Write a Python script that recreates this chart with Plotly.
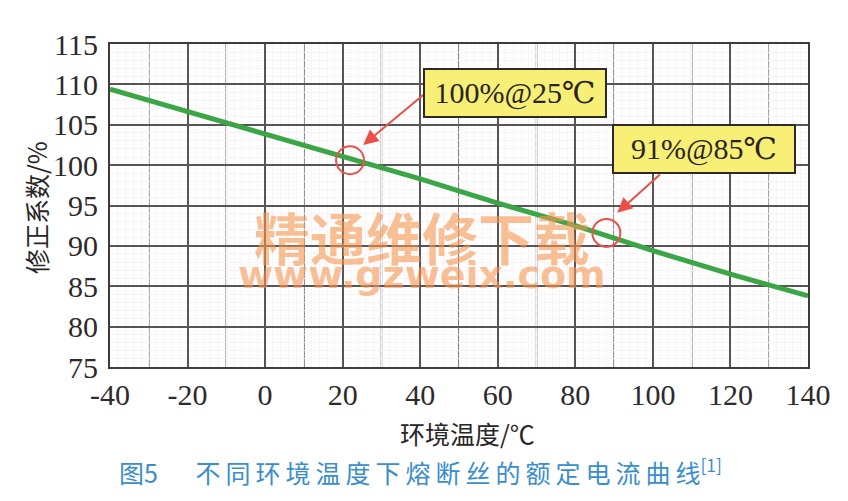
import plotly.graph_objects as go

temps = [-40, -20, 0, 20, 40, 60, 80, 100, 120, 140]
factor = [109.4, 106.6, 103.9, 101.1, 98.3, 95.3, 92.5, 89.4, 86.5, 83.8]
x_ticks = [-40, -20, 0, 20, 40, 60, 80, 100, 120, 140]
y_ticks = [75, 80, 85, 90, 95, 100, 105, 110, 115]
label1 = "100%@25℃"
label2 = "91%@85℃"
x_title = "环境温度/℃"
y_title = "修正系数/%"
caption_head = "图5"
caption_body = "不同环境温度下熔断丝的额定电流曲线"
caption_ref = "[1]"
watermark1 = "精通维修下载"
watermark2 = "www.gzweix.com"

serif = "Liberation Serif, DejaVu Serif, serif"
cjk = "Noto Sans CJK SC"

# figure is drawn at an offset of 8px (page body margin)
L, R, T, B = 110, 808, 44, 367


def px(x):
    return (x - L) / (R - L)


def py(y):
    return (B - y) / (B - T)


fig = go.Figure()
fig.add_trace(go.Scatter(x=temps, y=factor, mode="lines",
                         line=dict(color="#3aa646", width=5), hoverinfo="skip"))

grid = "#5a5456"
fig.update_xaxes(range=[-40, 140], tickvals=x_ticks, ticktext=[str(v) for v in x_ticks],
                 showgrid=True, gridcolor=grid, gridwidth=1.5,
                 showline=True, linecolor="#403a3c", linewidth=2, mirror=True,
                 zeroline=False, ticks="", ticklabelstandoff=0,
                 tickfont=dict(family=serif, size=30, color="#2e2a2b"),
                 minor=dict(dtick=2, tick0=0, showgrid=True, gridcolor="#f9f3f6", gridwidth=1))
fig.update_yaxes(range=[75, 115], tickvals=y_ticks, showgrid=True, gridcolor=grid,
                 gridwidth=1.5, showline=True, linecolor="#403a3c", linewidth=2,
                 mirror=True, zeroline=False, ticks="", ticklabelstandoff=4,
                 tickfont=dict(family=serif, size=30, color="#2e2a2b"),
                 minor=dict(dtick=1, showgrid=True, gridcolor="#f9f3f6", gridwidth=1))

# extra vertical grid lines at every 10 degrees
for v in range(-30, 140, 20):
    fig.add_shape(type="line", x0=v, x1=v, y0=75, y1=115, xref="x", yref="y",
                  line=dict(color=grid, width=1.5), layer="below")

# watermark
fig.add_annotation(x=40.5, y=91.3, xref="x", yref="y", text="<b>" + watermark1 + "</b>",
                   showarrow=False, xanchor="center", yanchor="middle",
                   font=dict(family=cjk, size=56, color="rgba(245,150,80,0.6)"))
fig.add_annotation(x=40.5, y=86.4, xref="x", yref="y", text="<b>" + watermark2 + "</b>",
                   showarrow=False, xanchor="center", yanchor="middle",
                   font=dict(family="DejaVu Sans, sans-serif", size=38,
                             color="rgba(245,150,80,0.6)"))

# red circles
for cx, cy in [(21.9, 100.6), (88.0, 91.6)]:
    rx, ry = 3.6, 1.73
    fig.add_shape(type="circle", x0=cx - rx, x1=cx + rx, y0=cy - ry, y1=cy + ry,
                  line=dict(color="#e8524a", width=2))

# arrows
for (tx, ty, hx, hy) in [(41.3, 108.9, 25.3, 102.5), (102.2, 99.0, 90.8, 94.1)]:
    fig.add_annotation(x=hx, y=hy, ax=tx, ay=ty, axref="x", ayref="y", text="",
                       showarrow=True, arrowhead=2, arrowsize=1.5, arrowwidth=2,
                       arrowcolor="#ea4f48")

# label boxes
for (bx, by, txt, w) in [(64.4, 108.9, label1, 172), (113.2, 102.0, label2, 172)]:
    fig.add_annotation(x=bx, y=by, text=txt, showarrow=False,
                       xanchor="center", yanchor="middle",
                       font=dict(family=serif, size=30, color="#2a2424"),
                       bgcolor="#f7ef76", bordercolor="#2e2a2a", borderwidth=2,
                       borderpad=4, width=w, height=38)

# titles
fig.add_annotation(x=px(36), y=py(208), xref="paper", yref="paper", text=y_title,
                   showarrow=False, textangle=-90, xanchor="center", yanchor="middle",
                   font=dict(family=cjk, size=25, color="#2a2526"))
fig.add_annotation(x=px(467), y=py(433), xref="paper", yref="paper", text=x_title,
                   showarrow=False, xanchor="center", yanchor="middle",
                   font=dict(family=cjk, size=25, color="#2a2526"))

thin = "\u2009"
caption = (caption_head + "\u2003\u2002" + thin.join(caption_body)
           + "<sup>" + caption_ref + "</sup>")
fig.add_annotation(x=px(117), y=py(471), xref="paper", yref="paper", text=caption,
                   showarrow=False, xanchor="left", yanchor="middle",
                   font=dict(family=cjk, size=25, color="#3a8ecb"))

fig.update_layout(width=840, height=493, showlegend=False,
                  margin=dict(l=L - 8, r=848 - R, t=T - 8, b=501 - B),
                  plot_bgcolor="white", paper_bgcolor="white")
fig.write_html("out.html")
